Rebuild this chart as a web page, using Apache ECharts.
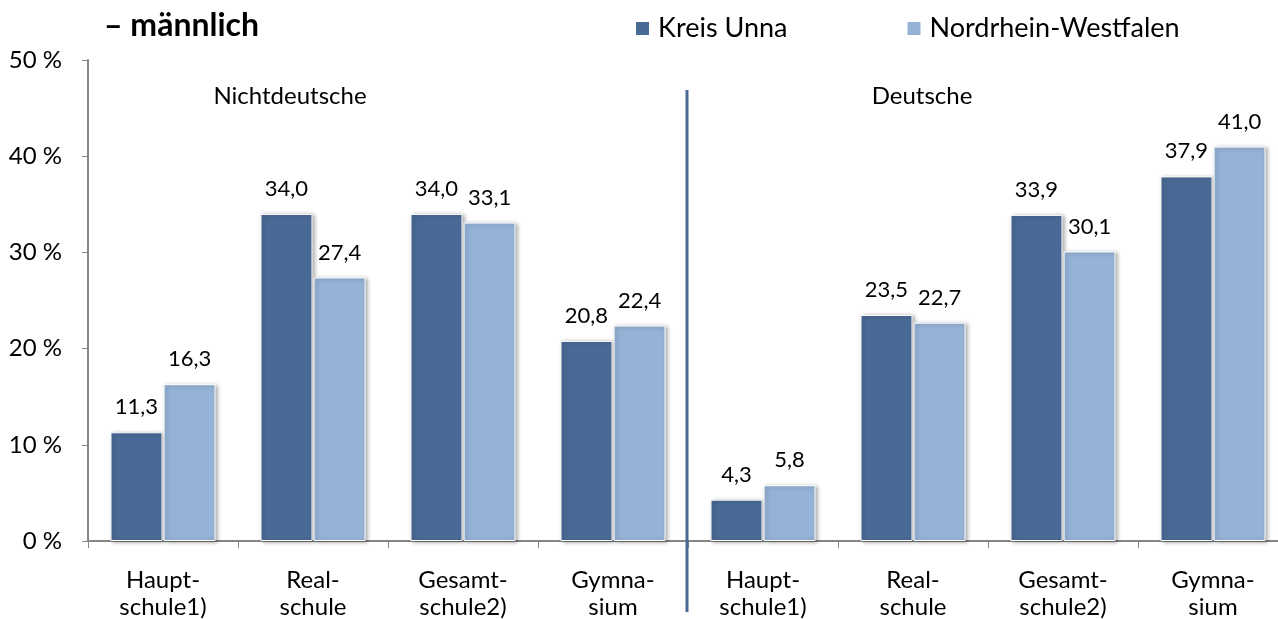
<!DOCTYPE html>
<html>
<head>
<meta charset="utf-8">
<script src="https://cdn.jsdelivr.net/npm/echarts@6/dist/echarts.min.js"></script>
<style>
  html, body { margin: 0; padding: 0; background: #fff; }
  #chart { width: 1278px; height: 619px; }
</style>
</head>
<body>
<div id="chart"></div>
<script>
const categories = ['Haupt-\nschule1)', 'Real-\nschule', 'Gesamt-\nschule2)', 'Gymna-\nsium',
  'Haupt-\nschule1)', 'Real-\nschule', 'Gesamt-\nschule2)', 'Gymna-\nsium']
const kreisUnna = [11.3, 34.0, 34.0, 20.8, 4.3, 23.5, 33.9, 37.9]
const nrw = [16.3, 27.4, 33.1, 22.4, 5.8, 22.7, 30.1, 41.0]
const groupNames = ['Nichtdeutsche', 'Deutsche']

const font = 'Lato, "Open Sans", sans-serif'
const dark = '#4a6a96'
const light = '#95b3d7'

const chart = echarts.init(document.getElementById('chart'))

function barSeries(name, data, color) {
  return {
    name: name,
    type: 'bar',
    data: data,
    barWidth: 52,
    barGap: '2%',
    itemStyle: {
      color: color,
      borderColor: '#fff',
      borderWidth: 1,
      shadowColor: 'rgba(0,0,0,0.35)',
      shadowBlur: 4,
      shadowOffsetX: 2,
      shadowOffsetY: 1
    },
    label: {
      show: true,
      position: 'top',
      distance: 14,
      color: '#000',
      fontFamily: font,
      fontSize: 22,
      formatter: p => p.value.toFixed(1).replace('.', ',')
    }
  }
}

chart.setOption({
  animation: false,
  title: {
    text: '– männlich',
    left: 99,
    top: 5,
    textStyle: { fontFamily: font, fontSize: 32, fontWeight: 'bold', color: '#000' }
  },
  legend: {
    left: 634,
    top: 15,
    padding: 0,
    itemWidth: 15,
    itemHeight: 15,
    itemGap: 118,
    icon: 'rect',
    textStyle: { fontFamily: font, fontSize: 27, color: '#000', padding: [0, 0, 0, 3] },
    data: ['Kreis Unna', 'Nordrhein-Westfalen']
  },
  grid: { left: 88, top: 60, bottom: 78, width: 1200, outerBoundsMode: 'none' },
  xAxis: {
    type: 'category',
    data: categories,
    axisLine: { lineStyle: { color: '#868686', width: 2 } },
    axisTick: { show: true, length: 7, lineStyle: { color: '#868686' } },
    axisLabel: {
      color: '#000',
      fontFamily: font,
      fontSize: 24,
      lineHeight: 27,
      margin: 26
    }
  },
  yAxis: {
    type: 'value',
    min: 0,
    max: 50,
    interval: 10,
    splitLine: { show: false },
    axisLine: { show: true, lineStyle: { color: '#868686', width: 2 } },
    axisTick: { show: true, length: 6, lineStyle: { color: '#868686' } },
    axisLabel: {
      color: '#000',
      fontFamily: font,
      fontSize: 24,
      margin: 26,
      formatter: '{value} %'
    }
  },
  series: [
    barSeries('Kreis Unna', kreisUnna, dark),
    barSeries('Nordrhein-Westfalen', nrw, light)
  ]
})

// divider between the two groups and group captions
const c3 = chart.convertToPixel({ xAxisIndex: 0 }, 3)
const c4 = chart.convertToPixel({ xAxisIndex: 0 }, 4)
const divX = (c3 + c4) / 2
const leftMid = (chart.convertToPixel({ xAxisIndex: 0 }, 0) + c3) / 2
const rightMid = (c4 + chart.convertToPixel({ xAxisIndex: 0 }, 7)) / 2

chart.setOption({
  graphic: [
    {
      type: 'line',
      shape: { x1: divX - 1, y1: 90, x2: divX - 1, y2: 612 },
      style: { stroke: dark, lineWidth: 3 },
      z: 10
    },
    {
      type: 'text',
      x: leftMid - 98,
      y: 96,
      style: { text: groupNames[0], fontFamily: font, fontSize: 24, fill: '#000', textAlign: 'center', textVerticalAlign: 'middle' }
    },
    {
      type: 'text',
      x: rightMid - 66,
      y: 96,
      style: { text: groupNames[1], fontFamily: font, fontSize: 24, fill: '#000', textAlign: 'center', textVerticalAlign: 'middle' }
    }
  ]
})
</script>
</body>
</html>
